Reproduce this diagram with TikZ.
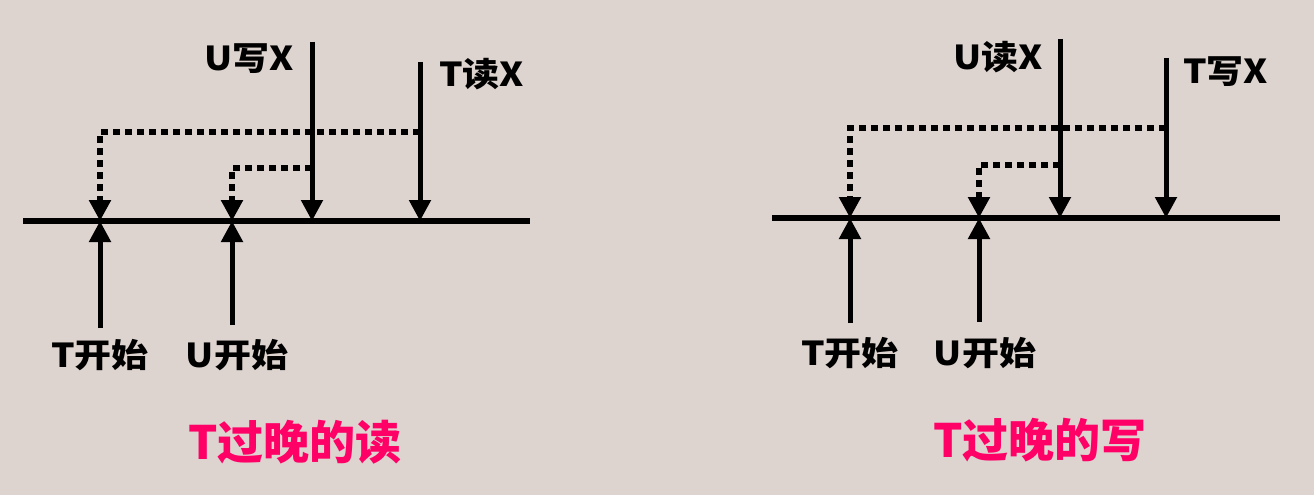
\documentclass[tikz,border=0pt]{standalone}
\usepackage{fontspec}
\newfontfamily\cjk[FakeStretch=1.12]{Noto Sans CJK SC}
\newfontfamily\cjktitle{Noto Sans CJK SC}
\usetikzlibrary{arrows.meta}
\definecolor{bgsand}{HTML}{DDD3CF}
\definecolor{titlepink}{HTML}{FF0066}

\begin{document}
\begin{tikzpicture}[x=1pt, y=-1pt,
  lab/.style={font=\cjk\bfseries\fontsize{33}{33}\selectfont, inner sep=0pt},
  ttl/.style={font=\cjktitle\bfseries\fontsize{46}{46}\selectfont, text=titlepink, inner sep=0pt},
  axis/.style={line width=6pt},
  op/.style={line width=5pt, -{Triangle[width=21pt,length=21pt]}},
  dep/.style={line width=6pt, dash pattern=on 7pt off 5pt, -{Triangle[width=21pt,length=21pt]}}]

\fill[bgsand] (0,0) rectangle (1314,495);
\useasboundingbox (0,0) rectangle (1314,495);

% left: T reads too late
\coordinate (la) at (23,221);
\coordinate (lb) at (530,221);
\coordinate (lT) at (100,221);
\coordinate (lU) at (232,221);
\coordinate (lW) at (312,221);
\coordinate (lR) at (420,221);
\coordinate (lhi) at (0,132);
\coordinate (llo) at (0,168);
\coordinate (lTtail) at (100,328);
\coordinate (lUtail) at (232,325);
\coordinate (lWtop) at (312,42);
\coordinate (lRtop) at (420,62);
\node[lab] (lTstart) at (100,355) {T开始};
\node[lab] (lUstart) at (237,355) {U开始};
\node[lab, anchor=east] (lUwrite) at (294,59) {U写X};
\node[lab, anchor=west] (lTread) at (439,74) {T读X};
\node[ttl] (lttl) at (295,442) {T过晚的读};

\draw[axis] (la) -- (lb);
\draw[op] (lTtail) -- (lT);
\draw[op] (lUtail) -- (lU);
\draw[op] (lWtop) -- (lW);
\draw[op] (lRtop) -- (lR);
\draw[dep] (lR |- lhi) -- (lT |- lhi) -- (lT);
\draw[dep] (lW |- llo) -- (lU |- llo) -- (lU);

% right: T writes too late
\coordinate (ra) at (772,218);
\coordinate (rb) at (1280,218);
\coordinate (rT) at (850,218);
\coordinate (rU) at (979,218);
\coordinate (rR) at (1060,218);
\coordinate (rW) at (1166,218);
\coordinate (rhi) at (0,128);
\coordinate (rlo) at (0,165);
\coordinate (rTtail) at (850,323);
\coordinate (rUtail) at (979,322);
\coordinate (rRtop) at (1060,39);
\coordinate (rWtop) at (1166,58);
\node[lab] (rTstart) at (850,353) {T开始};
\node[lab] (rUstart) at (985,353) {U开始};
\node[lab, anchor=east] (rUread) at (1043,57) {U读X};
\node[lab, anchor=west] (rTwrite) at (1183,72) {T写X};
\node[ttl] (rttl) at (1040,440) {T过晚的写};

\draw[axis] (ra) -- (rb);
\draw[op] (rTtail) -- (rT);
\draw[op] (rUtail) -- (rU);
\draw[op] (rRtop) -- (rR);
\draw[op] (rWtop) -- (rW);
\draw[dep] (rW |- rhi) -- (rT |- rhi) -- (rT);
\draw[dep] (rR |- rlo) -- (rU |- rlo) -- (rU);
\end{tikzpicture}
\end{document}
